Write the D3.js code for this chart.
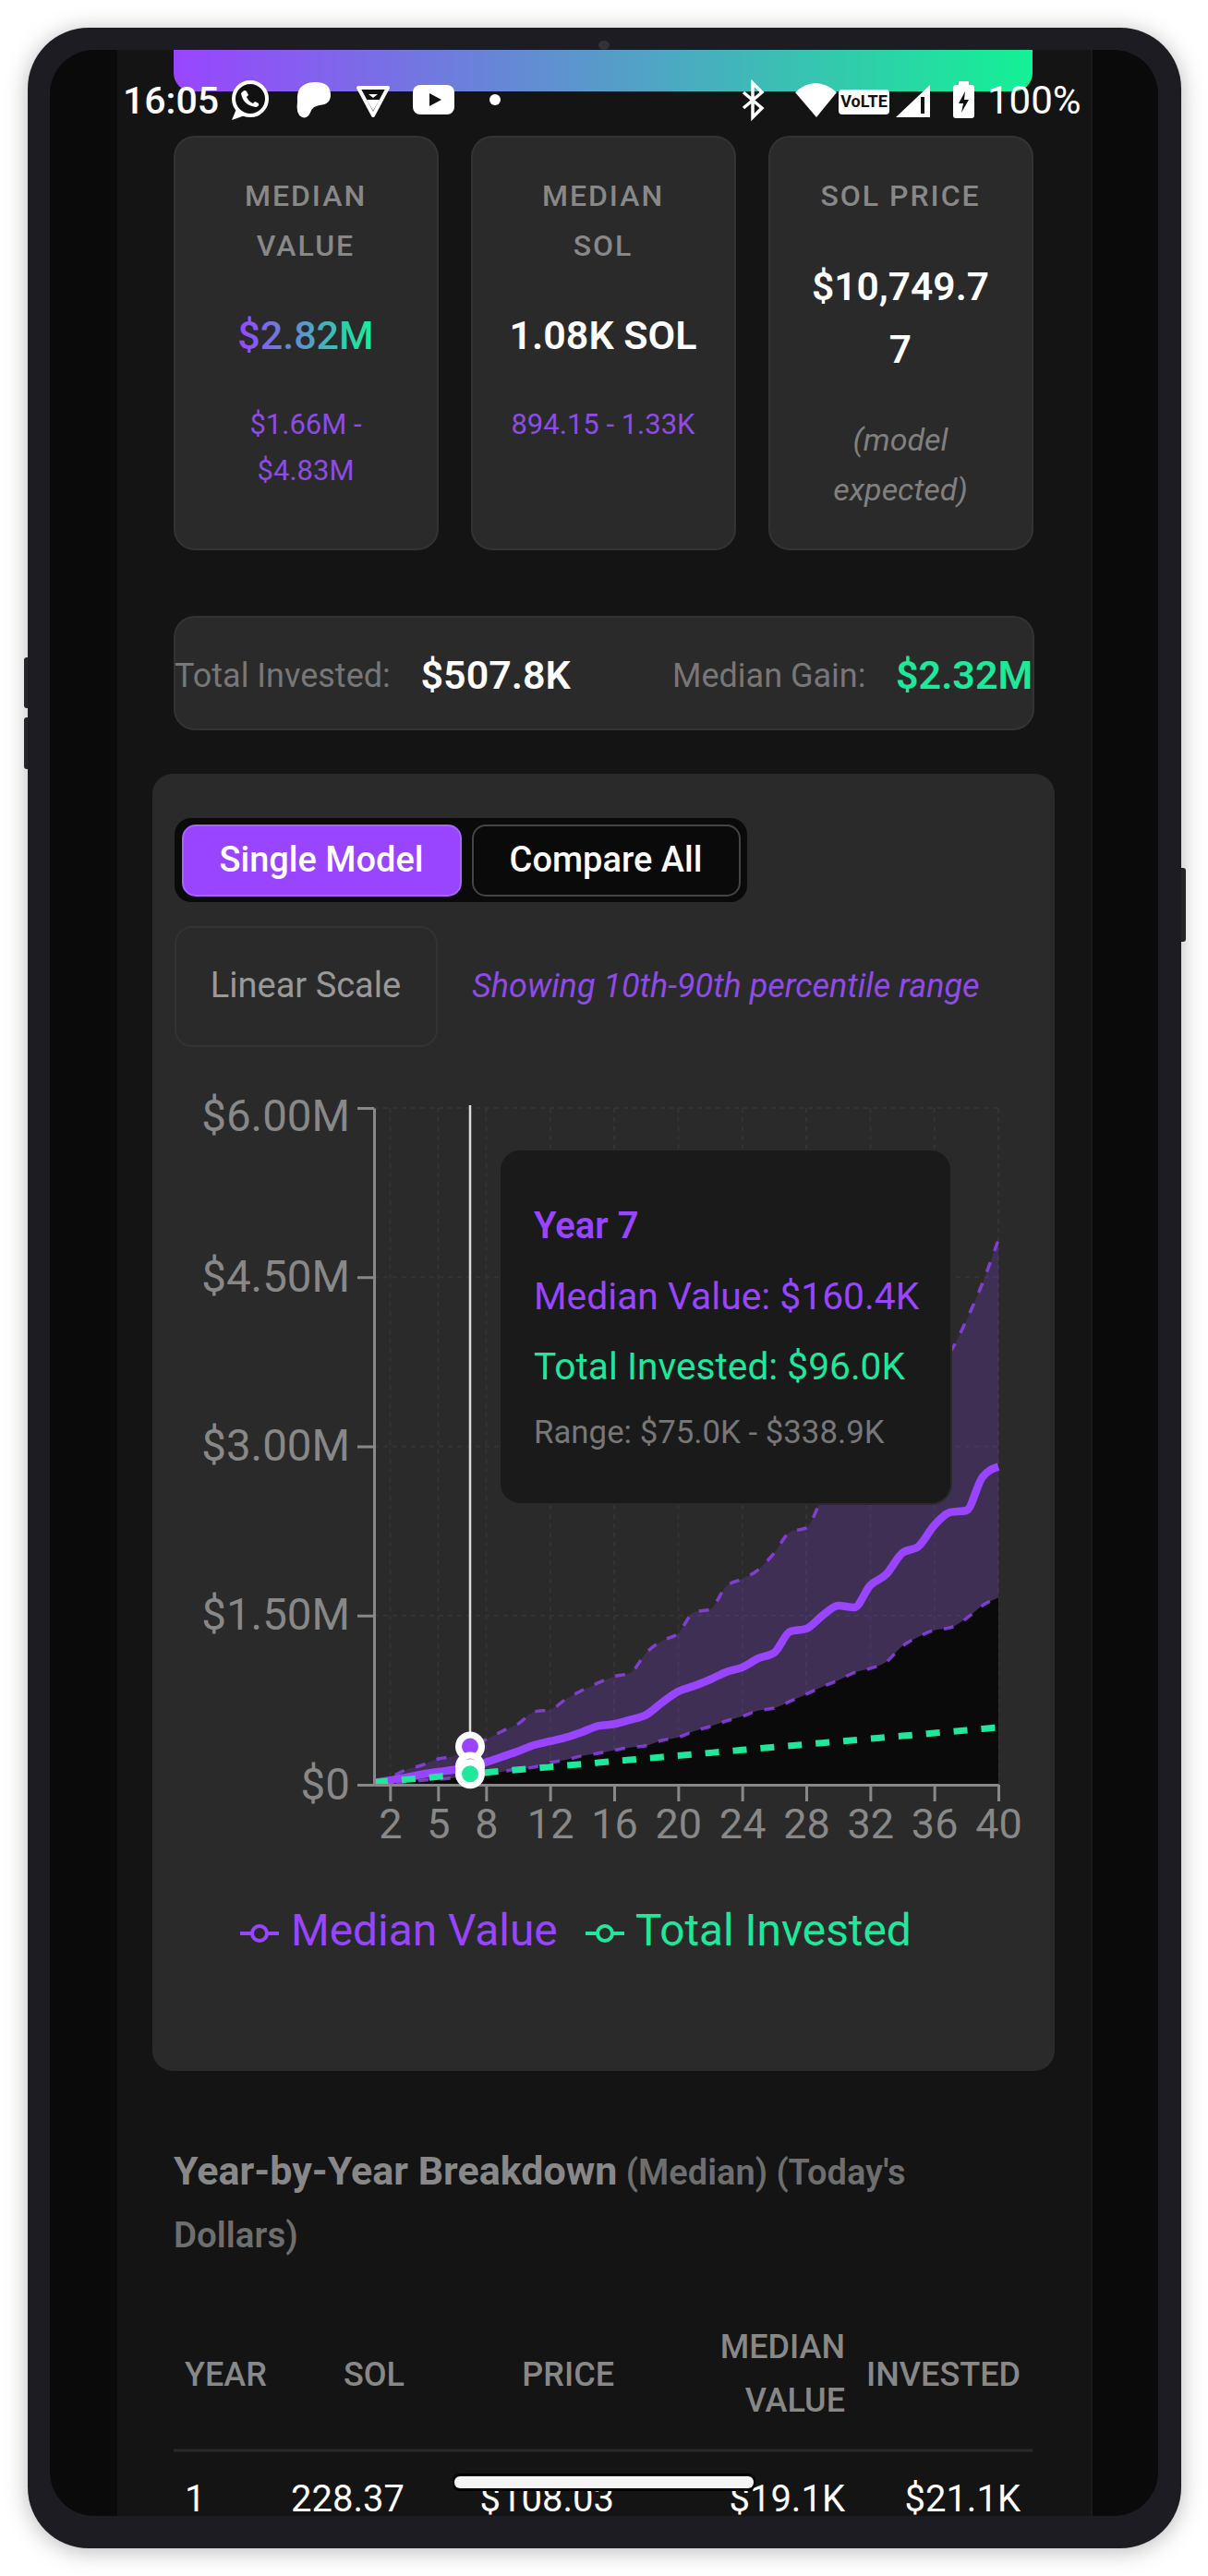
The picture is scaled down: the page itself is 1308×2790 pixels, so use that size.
<!DOCTYPE html>
<html>
<head>
<meta charset="utf-8">
<script src="https://cdn.jsdelivr.net/npm/d3@7"></script>
<style>
  html, body { margin: 0; padding: 0; background: #fff; }
  svg { display: block; }
  text { font-family: Roboto, sans-serif; }
</style>
</head>
<body>
<div id="chart"></div>
<script>
// values in $K, one entry per year
const years = [1,2,3,4,5,6,7,8,9,10,11,12,13,14,15,16,17,18,19,20,21,22,23,24,25,26,27,28,29,30,31,32,33,34,35,36,37,38,39,40];
const median = [19.1,40,65,92,114,133,160.4,200,248,297,352,385,420,467,521,538,576,620,729,827,876,933,999,1040,1121,1171,1359,1383,1498,1588,1572,1768,1866,2055,2112,2300,2415,2431,2726,2820];
const p10 = [10,15,25,38,48,60,75,92,115,139,156,196,221,256,278,305,330,346,393,420,475,516,565,606,657,679,739,802,868,925,993,1031,1089,1228,1310,1370,1392,1473,1588,1660];
const p90 = [25,65,133,174,229,256,338.9,401,475,540,647,665,761,837,903,960,990,1170,1277,1343,1531,1555,1760,1825,1907,2055,2243,2276,2540,2700,2740,3000,3120,3350,3450,3700,3840,4118,4445,4830];
const invested = [21.1,33.6,46.1,58.5,71,83.5,96,108.5,121,133.4,145.9,158.4,170.9,183.4,195.9,208.3,220.8,233.3,245.8,258.3,270.8,283.2,295.7,308.2,320.7,333.2,345.7,358.1,370.6,383.1,395.6,408.1,420.6,433,445.5,458,470.5,483,495.5,507.8];

const xTicks = [2,5,8,12,16,20,24,28,32,36,40];
const yTicks = [0,1500,3000,4500,6000];
const yTickLabels = ["$0","$1.50M","$3.00M","$4.50M","$6.00M"];
const activeYear = 7;

const tableHeaders = ["YEAR","SOL","PRICE","INVESTED"];
const tableRow = ["1","228.37","$108.03","$19.1K","$21.1K"];

const purple = "#9945FF";
const softPurple = "#8e4be6";
const green = "#1fe89c";

const svg = d3.select("#chart").append("svg").attr("width", 1308).attr("height", 2790);
const defs = svg.append("defs");

function label(parent, x, cy, str, size, color, opts) {
  opts = opts || {};
  return parent.append("text")
    .attr("x", x)
    .attr("y", cy + size * 0.355)
    .attr("font-size", size)
    .attr("fill", color)
    .attr("text-anchor", opts.anchor || "start")
    .attr("font-weight", opts.weight || 400)
    .attr("font-style", opts.italic ? "italic" : "normal")
    .attr("letter-spacing", opts.spacing || 0)
    .text(str);
}

function box(parent, x, y, w, h, r, fill, stroke) {
  return parent.append("rect")
    .attr("x", x).attr("y", y).attr("width", w).attr("height", h).attr("rx", r)
    .attr("fill", fill)
    .attr("stroke", stroke || "none")
    .attr("stroke-width", stroke ? 2 : 0);
}

// phone frame
const shadow = defs.append("filter").attr("id", "shadow")
  .attr("x", "-10%").attr("y", "-10%").attr("width", "120%").attr("height", "120%");
shadow.append("feDropShadow")
  .attr("dx", 0).attr("dy", 3).attr("stdDeviation", 12)
  .attr("flood-color", "#000").attr("flood-opacity", 0.28);

box(svg, 26, 712, 8, 55, 3, "#2a2a2c");
box(svg, 26, 777, 8, 56, 3, "#2a2a2c");
box(svg, 1276, 940, 8, 80, 3, "#2a2a2c");
box(svg, 30, 30, 1249, 2730, 66, "#1e1e20").attr("filter", "url(#shadow)");
svg.append("ellipse").attr("cx", 654).attr("cy", 49).attr("rx", 6).attr("ry", 5).attr("fill", "#333");

defs.append("clipPath").attr("id", "screen")
  .append("rect").attr("x", 54).attr("y", 54).attr("width", 1200).attr("height", 2671).attr("rx", 48);

const screen = svg.append("g").attr("clip-path", "url(#screen)");
screen.append("rect").attr("x", 54).attr("y", 54).attr("width", 1200).attr("height", 2671).attr("fill", "#0a0a0a");
screen.append("rect").attr("x", 127).attr("y", 54).attr("width", 1054).attr("height", 2671).attr("fill", "#141414");
screen.append("rect").attr("x", 1181).attr("y", 54).attr("width", 2).attr("height", 2671).attr("fill", "#1c1c1c");

// gradient header strip
const headGrad = defs.append("linearGradient").attr("id", "headGrad");
headGrad.append("stop").attr("offset", "0%").attr("stop-color", purple);
headGrad.append("stop").attr("offset", "100%").attr("stop-color", "#14F195");
screen.append("path")
  .attr("d", "M188,54 H1118 V79 a20,20 0 0 1 -20,20 H208 a20,20 0 0 1 -20,-20 Z")
  .attr("fill", "url(#headGrad)");

// stat cards
const cardXs = [189, 511, 833];
cardXs.forEach(x => box(screen, x, 148, 285, 447, 22, "#2a2a2a", "#333"));

const capsStyle = { anchor: "middle", weight: 500, spacing: 2 };
label(screen, 331, 212, "MEDIAN", 32, "#888", capsStyle);
label(screen, 331, 266, "VALUE", 32, "#888", capsStyle);
label(screen, 653, 212, "MEDIAN", 32, "#888", capsStyle);
label(screen, 653, 266, "SOL", 32, "#888", capsStyle);
label(screen, 975, 212, "SOL PRICE", 32, "#888", capsStyle);

const textGrad = defs.append("linearGradient").attr("id", "textGrad")
  .attr("gradientUnits", "userSpaceOnUse")
  .attr("x1", 258).attr("x2", 404).attr("y1", 0).attr("y2", 0);
textGrad.append("stop").attr("offset", "0%").attr("stop-color", purple);
textGrad.append("stop").attr("offset", "100%").attr("stop-color", "#14F195");

label(screen, 331, 363, "$2.82M", 43, "url(#textGrad)", { anchor: "middle", weight: 500 });
label(screen, 331, 459, "$1.66M -", 31, softPurple, { anchor: "middle" });
label(screen, 331, 509, "$4.83M", 31, softPurple, { anchor: "middle" });

label(screen, 653, 363, "1.08K SOL", 43, "#fff", { anchor: "middle", weight: 600 });
label(screen, 653, 459, "894.15 - 1.33K", 31, softPurple, { anchor: "middle" });

label(screen, 975, 310, "$10,749.7", 42.5, "#fff", { anchor: "middle", weight: 600 });
label(screen, 975, 378, "7", 42.5, "#fff", { anchor: "middle", weight: 600 });
label(screen, 975, 476, "(model", 34, "#808080", { anchor: "middle", italic: true });
label(screen, 975, 530, "expected)", 34, "#808080", { anchor: "middle", italic: true });

// summary bar
box(screen, 189, 668, 930, 122, 22, "#2a2a2a", "#333");
label(screen, 189, 731, "Total Invested:", 36, "#777");
label(screen, 455.5, 731, "$507.8K", 43, "#fff", { weight: 600 });
label(screen, 728, 731, "Median Gain:", 36, "#777");
label(screen, 970, 731, "$2.32M", 43, green, { weight: 600 });

// chart panel
box(screen, 165, 838, 977, 1405, 22, "#2a2a2a");

box(screen, 189, 886, 620, 91, 18, "#0a0a0a");
box(screen, 198, 894, 301, 76, 14, purple, "#a864ff");
box(screen, 512, 894, 289, 76, 14, "#0a0a0a", "#444");
label(screen, 348, 931, "Single Model", 38, "#fff", { anchor: "middle", weight: 500 });
label(screen, 656, 931, "Compare All", 38, "#fff", { anchor: "middle", weight: 500 });

box(screen, 190, 1004, 283, 129, 18, "#2a2a2a", "#333");
label(screen, 331, 1067, "Linear Scale", 38, "#999", { anchor: "middle" });
label(screen, 511, 1067, "Showing 10th-90th percentile range", 36, softPurple, { italic: true });

// chart scales
const x = d3.scaleLinear().domain([1, 40]).range([405, 1081]);
const y = d3.scaleLinear().domain([0, 6000]).range([1933, 1200]);

const plot = screen.append("g");

plot.append("g").selectAll("line").data(yTicks.slice(1)).join("line")
  .attr("x1", x(1)).attr("x2", x(40))
  .attr("y1", d => y(d)).attr("y2", d => y(d))
  .attr("stroke", "#343434").attr("stroke-width", 2).attr("stroke-dasharray", "5 5");
plot.append("g").selectAll("line").data(xTicks).join("line")
  .attr("x1", d => x(d)).attr("x2", d => x(d))
  .attr("y1", y(6000)).attr("y2", y(0))
  .attr("stroke", "#343434").attr("stroke-width", 2).attr("stroke-dasharray", "5 5");

const idx = years.map((d, i) => i);
const curve = d3.curveMonotoneX;

const band = d3.area().x(i => x(years[i])).y0(i => y(p10[i])).y1(i => y(p90[i])).curve(curve);
const floor = d3.area().x(i => x(years[i])).y0(y(0)).y1(i => y(p10[i])).curve(curve);
const lineOf = series => d3.line().x(i => x(years[i])).y(i => y(series[i])).curve(curve);

plot.append("path").datum(idx).attr("d", band).attr("fill", purple).attr("fill-opacity", 0.2);
plot.append("path").datum(idx).attr("d", floor).attr("fill", "#0a0a0a");

plot.append("path").datum(idx).attr("d", lineOf(p90))
  .attr("fill", "none").attr("stroke", purple).attr("stroke-opacity", 0.75)
  .attr("stroke-width", 3.5).attr("stroke-dasharray", "11 13");
plot.append("path").datum(idx).attr("d", lineOf(p10))
  .attr("fill", "none").attr("stroke", purple).attr("stroke-opacity", 0.75)
  .attr("stroke-width", 3.5).attr("stroke-dasharray", "11 13");
plot.append("path").datum(idx).attr("d", lineOf(median))
  .attr("fill", "none").attr("stroke", purple).attr("stroke-width", 8.5);
plot.append("path").datum(idx).attr("d", lineOf(invested))
  .attr("fill", "none").attr("stroke", green).attr("stroke-width", 7).attr("stroke-dasharray", "15 15");

// axes
const yAxis = d3.axisLeft(y).tickValues(yTicks)
  .tickFormat((d, i) => yTickLabels[i]).tickSize(18).tickSizeOuter(0).tickPadding(8);
const xAxis = d3.axisBottom(x).tickValues(xTicks).tickSize(18).tickSizeOuter(0).tickPadding(8);

const yG = plot.append("g").attr("transform", "translate(405,0)").call(yAxis);
const xG = plot.append("g").attr("transform", "translate(0,1933)").call(xAxis);
[yG, xG].forEach(g => {
  g.selectAll("path,line").attr("stroke", "#888").attr("stroke-width", 3);
  g.selectAll("text").attr("fill", "#888").attr("font-family", "Roboto, sans-serif");
});
yG.selectAll("text").attr("font-size", 47.5);
xG.selectAll("text").attr("font-size", 45);
yG.selectAll(".tick").filter(d => d === 6000).select("text").attr("dy", "0.52em");

// hover cursor and active dots
const ai = years.indexOf(activeYear);
plot.append("line")
  .attr("x1", x(activeYear)).attr("x2", x(activeYear))
  .attr("y1", y(6000) - 3).attr("y2", y(0))
  .attr("stroke", "#ddd").attr("stroke-width", 2.5);

const dots = [[p90[ai], purple], [median[ai], purple], [invested[ai], green]];
plot.append("g").selectAll("circle").data(dots).join("circle")
  .attr("cx", x(activeYear))
  .attr("cy", d => y(d[0]))
  .attr("r", 12.5)
  .attr("fill", d => d[1])
  .attr("stroke", "#fff").attr("stroke-width", 7);

// legend
const legendItems = [["Median Value", purple, 260, 315], ["Total Invested", green, 634, 688]];
legendItems.forEach(item => {
  const g = screen.append("g");
  g.append("line").attr("x1", item[2]).attr("x2", item[2] + 42).attr("y1", 2094).attr("y2", 2094)
    .attr("stroke", item[1]).attr("stroke-width", 4);
  g.append("circle").attr("cx", item[2] + 21).attr("cy", 2094).attr("r", 8)
    .attr("fill", "#2a2a2a").attr("stroke", item[1]).attr("stroke-width", 4);
  label(g, item[3], 2090, item[0], 47.8, item[1]);
});

// tooltip
box(screen, 541, 1245, 489, 384, 22, "#1a1a1a", "#2a2a2a");
label(screen, 578, 1327, "Year " + activeYear, 40, purple, { weight: 600 });
label(screen, 578, 1404, "Median Value: $160.4K", 40.8, purple);
label(screen, 578, 1480, "Total Invested: $96.0K", 40.7, green);
label(screen, 578, 1551, "Range: $75.0K - $338.9K", 34.8, "#777");

// table
const title = label(screen, 188, 2351, "Year-by-Year Breakdown", 43, "#888", { weight: 700 });
title.append("tspan").attr("font-weight", 600).attr("font-size", 38).attr("fill", "#6e6e6e").text(" (Median) (Today's");
label(screen, 188, 2420, "Dollars)", 38.5, "#6e6e6e", { weight: 600 });

label(screen, 200, 2571, tableHeaders[0], 36, "#888", { weight: 500 });
label(screen, 438, 2571, tableHeaders[1], 36, "#888", { anchor: "end", weight: 500 });
label(screen, 665, 2571, tableHeaders[2], 36, "#888", { anchor: "end", weight: 500 });
label(screen, 915, 2541, "MEDIAN", 36, "#888", { anchor: "end", weight: 500 });
label(screen, 915, 2599, "VALUE", 36, "#888", { anchor: "end", weight: 500 });
label(screen, 1105, 2571, tableHeaders[3], 36, "#888", { anchor: "end", weight: 500 });
screen.append("line").attr("x1", 188).attr("x2", 1118).attr("y1", 2654).attr("y2", 2654)
  .attr("stroke", "#2a2a2a").attr("stroke-width", 3);

label(screen, 200, 2706, tableRow[0], 40, "#fff");
label(screen, 438, 2706, tableRow[1], 40, "#fff", { anchor: "end" });
label(screen, 665, 2706, tableRow[2], 40, "#fff", { anchor: "end" });
label(screen, 915, 2706, tableRow[3], 40, "#fff", { anchor: "end" });
label(screen, 1105, 2706, tableRow[4], 40, "#fff", { anchor: "end" });

// home indicator
box(screen, 490, 2679, 328, 19, 8, "#000");
box(screen, 492, 2682, 324, 13, 6, "#f4f4f4");

// status bar
const status = screen.append("g");
label(status, 133, 108, "16:05", 41, "#fff", { weight: 500 });
label(status, 1069, 108, "100%", 42, "#fff");

status.append("circle").attr("cx", 271).attr("cy", 107).attr("r", 18)
  .attr("fill", "#111").attr("stroke", "#fff").attr("stroke-width", 4);
status.append("path").attr("d", "M256,118 L251,130 L265,125").attr("fill", "#fff");
status.append("path").attr("d", "M263,99 q2,-2 4,0 l2,4 -2,2 q2,5 7,7 l2,-2 4,2 q1,3 -3,4 q-14,-2 -16,-15 z").attr("fill", "#fff");

status.append("path").attr("d", "M322,110 Q320,90 340,89 Q358,88 358,103 Q358,113 346,114 Q338,115 336,122 Q333,129 327,127 Q320,124 322,110 Z").attr("fill", "#fff");

status.append("path").attr("d", "M388,95 H420 L404,125 Z").attr("fill", "#111").attr("stroke", "#fff").attr("stroke-width", 4).attr("stroke-linejoin", "round");
status.append("path").attr("d", "M397,108 H411 L404,120 Z M399,102 H409 L404,106 Z").attr("fill", "#fff");

box(status, 447, 92, 45, 32, 8, "#fff");
status.append("path").attr("d", "M465,101 L478,108 L465,115 Z").attr("fill", "#111");
status.append("circle").attr("cx", 536).attr("cy", 108).attr("r", 6).attr("fill", "#fff");

status.append("path").attr("d", "M805,100 L825,117 L815,127 V90 L825,100 L805,117").attr("fill", "none").attr("stroke", "#fff").attr("stroke-width", 3.5);
status.append("path").attr("d", "M861,100 Q883,80 906,100 L884,127 Z").attr("fill", "#fff");
box(status, 908, 97, 55, 27, 4, "#fff");
label(status, 935.5, 110, "VoLTE", 18, "#111", { anchor: "middle", weight: 700 });
status.append("path").attr("d", "M970,127 L1007,92 V127 Z").attr("fill", "#fff");
status.append("rect").attr("x", 997).attr("y", 105).attr("width", 4).attr("height", 18).attr("fill", "#111");
box(status, 1032, 92, 23, 36, 3, "#fff");
box(status, 1038, 88, 11, 6, 1, "#fff");
status.append("path").attr("d", "M1045,99 L1038,112 H1043 L1041,122 L1049,108 H1044 Z").attr("fill", "#111");
</script>
</body>
</html>
